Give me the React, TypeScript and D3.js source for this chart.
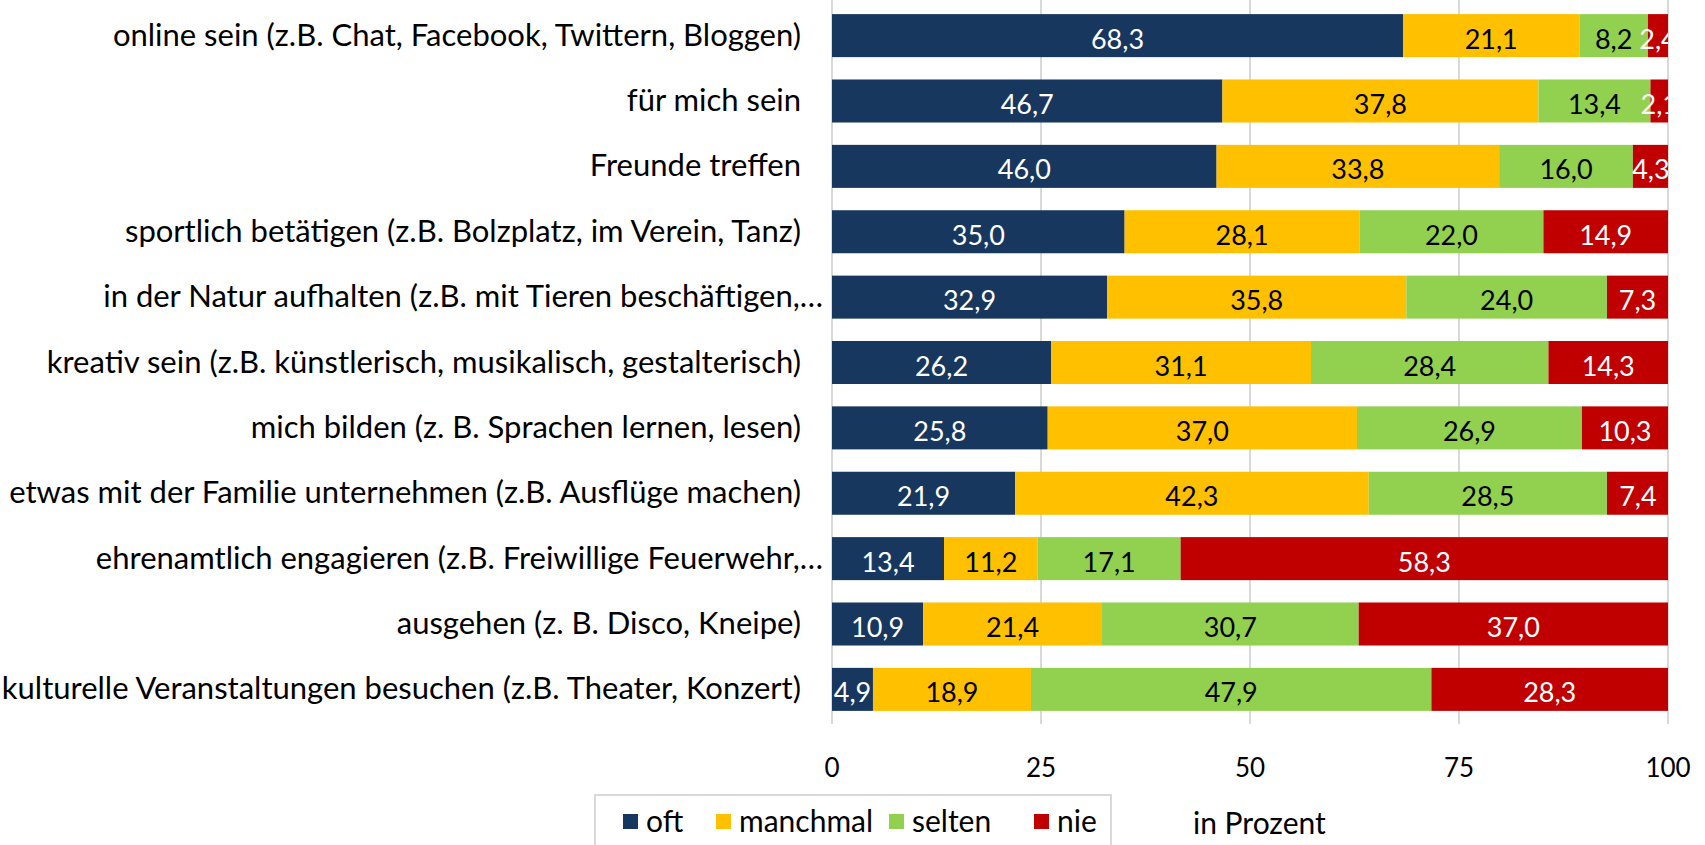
import React from "react"
import * as d3 from "d3"

const categories = [
  "online sein (z.B. Chat, Facebook, Twittern, Bloggen)",
  "für mich sein",
  "Freunde treffen",
  "sportlich betätigen (z.B. Bolzplatz, im Verein, Tanz)",
  "in der Natur aufhalten (z.B. mit Tieren beschäftigen,…",
  "kreativ sein (z.B. künstlerisch, musikalisch, gestalterisch)",
  "mich bilden (z. B. Sprachen lernen, lesen)",
  "etwas mit der Familie unternehmen (z.B. Ausflüge machen)",
  "ehrenamtlich engagieren (z.B. Freiwillige Feuerwehr,…",
  "ausgehen (z. B. Disco, Kneipe)",
  "kulturelle Veranstaltungen besuchen (z.B. Theater, Konzert)",
]
const truncated = [false, false, false, false, true, false, false, false, true, false, false]

const oft = [68.3, 46.7, 46.0, 35.0, 32.9, 26.2, 25.8, 21.9, 13.4, 10.9, 4.9]
const manchmal = [21.1, 37.8, 33.8, 28.1, 35.8, 31.1, 37.0, 42.3, 11.2, 21.4, 18.9]
const selten = [8.2, 13.4, 16.0, 22.0, 24.0, 28.4, 26.9, 28.5, 17.1, 30.7, 47.9]
const nie = [2.4, 2.1, 4.3, 14.9, 7.3, 14.3, 10.3, 7.4, 58.3, 37.0, 28.3]

const seriesNames = ["oft", "manchmal", "selten", "nie"]
const seriesValues = [oft, manchmal, selten, nie]
const colors = ["#17375E", "#FFC000", "#92D050", "#C00000"]
const labelColors = ["#ffffff", "#000000", "#000000", "#ffffff"]
const ticks = [0, 25, 50, 75, 100]

const font = "Lato, 'Open Sans', sans-serif"

export default function App() {
  const x = d3.scaleLinear().domain([0, 100]).range([832, 1668])
  const y = d3
    .scaleBand<string>()
    .domain(categories)
    .range([3, 722])
    .paddingInner(0.342)
    .paddingOuter(0.17)

  const rows = categories.map((c, i) => {
    const o: any = { cat: c }
    seriesNames.forEach((s, j) => (o[s] = seriesValues[j][i]))
    return o
  })
  const stacked = d3.stack().keys(seriesNames)(rows)
  const fmt = (v: number) => d3.format(".1f")(v).replace(".", ",")

  return (
    <svg width={1705} height={845} style={{ position: "absolute", left: 0, top: 0, background: "#fff" }}>
      <defs>
        <clipPath id="plot">
          <rect x={x(0)} y={0} width={x(100) - x(0)} height={730} />
        </clipPath>
      </defs>
      {ticks.map((t) => (
        <line key={t} x1={x(t)} x2={x(t)} y1={0} y2={724} stroke="#d9d9d9" strokeWidth={2} />
      ))}
      <g clipPath="url(#plot)">
        {stacked.map((s, j) =>
          s.map((d, i) => (
            <rect
              key={j + "-" + i}
              x={x(d[0])}
              y={y(categories[i])}
              width={x(d[1]) - x(d[0])}
              height={y.bandwidth()}
              fill={colors[j]}
            />
          ))
        )}
        {stacked.map((s, j) =>
          s.map((d, i) => (
            <text
              key={"l" + j + "-" + i}
              x={(x(d[0]) + x(d[1])) / 2}
              y={(y(categories[i]) as number) + y.bandwidth() / 2 + 13}
              textAnchor="middle"
              fontFamily={font}
              fontSize={27}
              fill={labelColors[j]}
            >
              {fmt(d[1] - d[0])}
            </text>
          ))
        )}
      </g>
      {categories.map((c, i) => (
        <text
          key={c}
          x={truncated[i] ? 823 : 801}
          y={(y(c) as number) + y.bandwidth() / 2 + 10}
          textAnchor="end"
          fontFamily={font}
          fontSize={31}
          fill="#000"
        >
          {c}
        </text>
      ))}
      {ticks.map((t) => (
        <text key={"t" + t} x={x(t)} y={777} textAnchor="middle" fontFamily={font} fontSize={26} fill="#000">
          {t}
        </text>
      ))}
      <rect x={595} y={795} width={516} height={60} fill="#fff" stroke="#d9d9d9" strokeWidth={2} />
      {seriesNames.map((s, j) => {
        const lx = [623, 716, 889, 1034][j]
        return (
          <g key={s}>
            <rect x={lx} y={814} width={15} height={15} fill={colors[j]} />
            <text x={lx + 23} y={832} fontFamily={font} fontSize={30} fill="#000">
              {s}
            </text>
          </g>
        )
      })}
      <text x={1193} y={834} fontFamily={font} fontSize={30} fill="#000">
        in Prozent
      </text>
    </svg>
  )
}
